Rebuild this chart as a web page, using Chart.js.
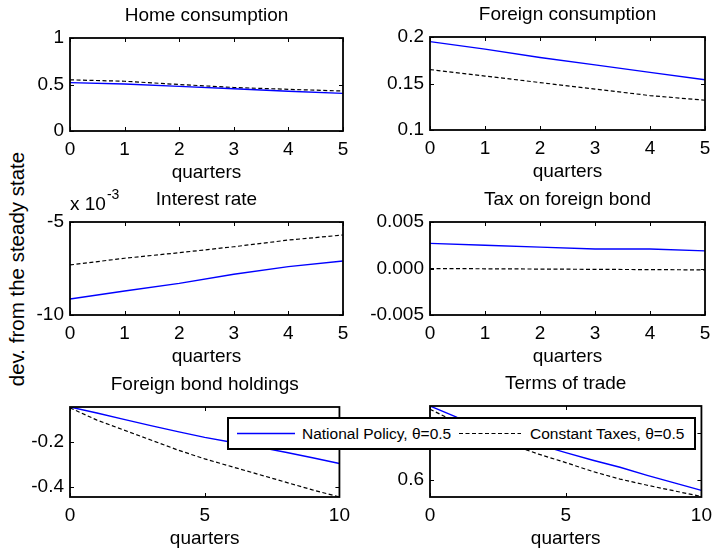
<!DOCTYPE html>
<html>
<head>
<meta charset="utf-8">
<script src="https://cdn.jsdelivr.net/npm/chart.js@4/dist/chart.umd.min.js"></script>
<style>
  html, body { margin: 0; padding: 0; background: #fff; }
  body { width: 717px; height: 549px; position: relative; overflow: hidden;
         font-family: "Liberation Sans", Arial, sans-serif; }
  canvas { position: absolute; }
  #ylab { position: absolute; left: 17px; top: 269px; white-space: nowrap;
          transform: translate(-50%, -50%) rotate(-90deg); font-size: 20.5px; color: #000; }
  #legend { position: absolute; left: 227px; top: 417px; width: 465px; height: 29px;
            border: 2px solid #000; background: #fff; z-index: 5; font-size: 15.5px; }
  #legend span { position: absolute; top: 50%; transform: translateY(-50%); white-space: nowrap; }
  #legend svg { position: absolute; left: 0; top: 0; }
</style>
</head>
<body>
<div id="ylab">dev. from the steady state</div>
<div id="legend">
  <svg width="465" height="29">
    <line x1="8" y1="14.5" x2="66" y2="14.5" stroke="#0000ff" stroke-width="1.3"/>
    <line x1="230" y1="14.5" x2="292" y2="14.5" stroke="#000" stroke-width="1.2" stroke-dasharray="4 2.5"/>
  </svg>
  <span style="left:73px">National Policy, θ=0.5</span>
  <span style="left:301px">Constant Taxes, θ=0.5</span>
</div>
<script>
// horizons
const quartersShort = [0, 1, 2, 3, 4, 5];
const quartersLong = [0, 1, 2, 3, 4, 5, 6, 7, 8, 9, 10];

// Home consumption
const homeNational = [0.52, 0.505, 0.48, 0.455, 0.428, 0.405];
const homeConstant = [0.55, 0.535, 0.50, 0.468, 0.448, 0.43];
const homeTicks = [0, 0.5, 1];

// Foreign consumption
const foreignNational = [0.195, 0.187, 0.178, 0.170, 0.162, 0.154];
const foreignConstant = [0.165, 0.158, 0.151, 0.144, 0.137, 0.132];
const foreignTicks = [0.1, 0.15, 0.2];

// Interest rate, in units of 10^-3
const interestNational = [-9.14, -8.71, -8.30, -7.81, -7.40, -7.10];
const interestConstant = [-7.31, -6.95, -6.65, -6.33, -5.97, -5.70];
const interestTicks = [-10, -5];

// Tax on foreign bond
const taxNational = [0.0027, 0.0025, 0.0023, 0.0021, 0.0021, 0.0019];
const taxConstant = [0, -0.00003, -0.00006, -0.00009, -0.00012, -0.00015];
const taxTicks = [-0.005, 0, 0.005];

// Foreign bond holdings
const bondNational = [-0.041, -0.068, -0.097, -0.125, -0.152, -0.178, -0.200, -0.222, -0.245, -0.270, -0.296];
const bondConstant = [-0.045, -0.100, -0.145, -0.190, -0.235, -0.275, -0.310, -0.345, -0.380, -0.415, -0.447];
const bondTicks = [-0.4, -0.2];

// Terms of trade
const totNational = [0.757, 0.733, 0.712, 0.693, 0.675, 0.658, 0.642, 0.627, 0.610, 0.594, 0.578];
const totConstant = [0.750, 0.722, 0.697, 0.675, 0.655, 0.637, 0.618, 0.602, 0.589, 0.577, 0.565];
const totTicks = [0.6, 0.7];

const FONT = '"Liberation Sans", Arial, sans-serif';
const FS = 19;

const panels = [
  { title: 'Home consumption', x: quartersShort, nat: homeNational, con: homeConstant,
    ymin: 0, ymax: 1, yticks: homeTicks, xstep: 1, box: [70, 38, 343, 131] },
  { title: 'Foreign consumption', x: quartersShort, nat: foreignNational, con: foreignConstant,
    ymin: 0.1, ymax: 0.2, yticks: foreignTicks, xstep: 1, box: [430, 37, 705, 130] },
  { title: 'Interest rate', x: quartersShort, nat: interestNational, con: interestConstant,
    ymin: -10, ymax: -5, yticks: interestTicks, xstep: 1, box: [70, 222, 343, 315], exponent: true },
  { title: 'Tax on foreign bond', x: quartersShort, nat: taxNational, con: taxConstant,
    ymin: -0.005, ymax: 0.005, yticks: taxTicks, xstep: 1, box: [430, 222, 705, 315],
    fmt: v => v.toFixed(3) },
  { title: 'Foreign bond holdings', x: quartersLong, nat: bondNational, con: bondConstant,
    ymin: -0.447, ymax: -0.041, yticks: bondTicks, xstep: 5, box: [70, 407, 343, 497] },
  { title: 'Terms of trade', x: quartersLong, nat: totNational, con: totConstant,
    ymin: 0.564, ymax: 0.757, yticks: totTicks, xstep: 5, box: [430, 406, 705, 497] }
];

// axis frame with inward tick marks, panel title and exponent note
const framePlugin = {
  id: 'frame',
  afterDraw(chart, args, opts) {
    const { ctx, chartArea: a, scales: { x, y } } = chart;
    const tl = 4;
    ctx.save();
    ctx.strokeStyle = '#000';
    ctx.lineWidth = 1;
    ctx.beginPath();
    x.ticks.forEach(t => {
      const px = Math.round(x.getPixelForValue(t.value)) + 0.5;
      ctx.moveTo(px, a.bottom); ctx.lineTo(px, a.bottom - tl);
      ctx.moveTo(px, a.top); ctx.lineTo(px, a.top + tl);
    });
    y.ticks.forEach(t => {
      const py = Math.round(y.getPixelForValue(t.value)) + 0.5;
      ctx.moveTo(a.left, py); ctx.lineTo(a.left + tl, py);
      ctx.moveTo(a.right, py); ctx.lineTo(a.right - tl, py);
    });
    ctx.stroke();
    ctx.lineWidth = 1.8;
    ctx.strokeRect(a.left, a.top, a.right - a.left, a.bottom - a.top);
    ctx.fillStyle = '#000';
    ctx.font = FS + 'px ' + FONT;
    ctx.textAlign = 'center';
    ctx.textBaseline = 'middle';
    ctx.fillText(opts.title, (a.left + a.right) / 2, a.top - 22);
    if (opts.exponent) {
      ctx.textAlign = 'left';
      ctx.fillText('x 10', a.left, a.top - 17);
      const w = ctx.measureText('x 10').width;
      ctx.font = '14px ' + FONT;
      ctx.fillText('-3', a.left + w + 1, a.top - 27);
    }
    ctx.restore();
  }
};

panels.forEach(p => {
  const [l, t, r, b] = p.box;
  const padL = 72, padT = 40, padR = 14, xH = 53;
  const cv = document.createElement('canvas');
  const W = (r - l) + padL + padR;
  const H = (b - t) + padT + xH + 2;
  cv.width = W; cv.height = H;
  cv.style.left = (l - padL) + 'px';
  cv.style.top = (t - padT) + 'px';
  cv.style.width = W + 'px'; cv.style.height = H + 'px';
  document.body.appendChild(cv);

  new Chart(cv, {
    type: 'line',
    data: {
      datasets: [
        { label: 'National Policy, θ=0.5', data: p.x.map((q, i) => ({ x: q, y: p.nat[i] })),
          borderColor: '#0000ff', borderWidth: 1.4, pointRadius: 0, tension: 0, fill: false },
        { label: 'Constant Taxes, θ=0.5', data: p.x.map((q, i) => ({ x: q, y: p.con[i] })),
          borderColor: '#000000', borderWidth: 1.2, borderDash: [4, 2.5], pointRadius: 0, tension: 0, fill: false }
      ]
    },
    options: {
      responsive: false,
      animation: false,
      devicePixelRatio: 1,
      layout: { padding: { left: 0, top: padT, right: padR, bottom: 2 } },
      plugins: {
        legend: { display: false },
        tooltip: { enabled: false },
        frame: { title: p.title, exponent: !!p.exponent }
      },
      scales: {
        x: {
          type: 'linear', min: 0, max: p.x[p.x.length - 1],
          grid: { display: false, drawTicks: false },
          border: { display: false },
          afterFit(s) { s.height = xH; },
          ticks: { stepSize: p.xstep, color: '#000', padding: 7, maxRotation: 0,
                   font: { family: FONT, size: FS } },
          title: { display: true, text: 'quarters', color: '#000', padding: { top: 0, bottom: 0 },
                   font: { family: FONT, size: FS } }
        },
        y: {
          type: 'linear', min: p.ymin, max: p.ymax,
          grid: { display: false, drawTicks: false },
          border: { display: false },
          afterFit(s) { s.width = padL; },
          afterBuildTicks(s) { s.ticks = p.yticks.map(v => ({ value: v })); },
          ticks: { color: '#000', padding: 6, font: { family: FONT, size: FS },
                   callback: p.fmt ? p.fmt : (v => String(Number(v.toFixed(6)))) }
        }
      }
    },
    plugins: [framePlugin]
  });
});
</script>
</body>
</html>
